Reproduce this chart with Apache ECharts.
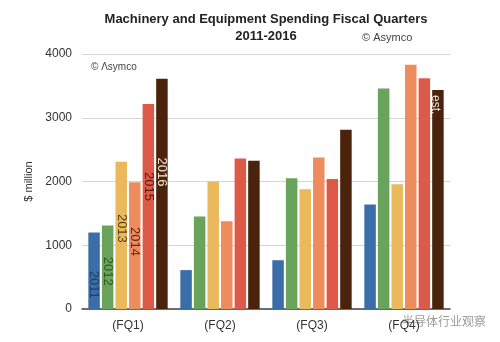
<!DOCTYPE html>
<html>
<head>
<meta charset="utf-8">
<script src="https://cdn.jsdelivr.net/npm/echarts@6/dist/echarts.min.js"></script>
<style>
  html, body { margin: 0; padding: 0; background: #fff; }
  #chart { width: 500px; height: 342px; }
</style>
</head>
<body>
<div id="chart"></div>
<script>
// Fiscal quarters and yearly spending ($ million)
const quarters = ['(FQ1)', '(FQ2)', '(FQ3)', '(FQ4)'];
const years = ['2011', '2012', '2013', '2014', '2015', '2016'];
const y2011 = [1200, 610, 765, 1640];
const y2012 = [1310, 1450, 2050, 3460];
const y2013 = [2310, 2000, 1880, 1955];
const y2014 = [1990, 1375, 2375, 3830];
const y2015 = [3215, 2360, 2040, 3620];
const y2016 = [3610, 2325, 2810, 3435];
const yTicks = [0, 1000, 2000, 3000, 4000];

const yearValues = [y2011, y2012, y2013, y2014, y2015, y2016];
const colors = ['#3b6ea8', '#6aa35c', '#e9b95c', '#ee8c5e', '#dc5a47', '#4b230d'];
const labelColors = ['#1f3f66', '#2f5a26', '#5a4214', '#5a2a12', '#5a1a12', '#f2e6d8'];
// downward nudge of each year label inside the first group of bars (px);
// with the text turned -90deg the label's own x axis points down the screen
const labelShift = [14, 4, -7, -4, -20, -22];

const FONT = '"Liberation Sans", Arial, sans-serif';

const series = yearValues.map((vals, si) => ({
  name: years[si],
  type: 'bar',
  barWidth: 11.5,
  barGap: '18%',
  itemStyle: { color: colors[si] },
  data: vals.map((v, qi) => {
    const item = { value: v };
    if (qi === 0) {
      item.label = {
        show: true, position: 'inside', rotate: -90,
        offset: [labelShift[si], 0],
        formatter: years[si], color: labelColors[si],
        fontFamily: FONT, fontSize: 13
      };
    } else if (si === 5 && qi === 3) {
      item.label = {
        show: true, position: 'insideTop', rotate: -90, align: 'left',
        verticalAlign: 'middle', offset: [0, 3],
        formatter: 'est.', color: '#f2e6d8',
        fontFamily: FONT, fontSize: 12
      };
    }
    return item;
  })
}));

const chart = echarts.init(document.getElementById('chart'), null, { renderer: 'canvas' });
chart.setOption({
  animation: false,
  backgroundColor: '#ffffff',
  title: [
    {
      text: 'Machinery and Equipment Spending Fiscal Quarters',
      left: 261, top: 8, textAlign: 'center',
      textStyle: { fontFamily: FONT, fontSize: 13, fontWeight: 'bold', color: '#222' }
    },
    {
      text: '2011-2016',
      left: 261, top: 25, textAlign: 'center',
      textStyle: { fontFamily: FONT, fontSize: 13, fontWeight: 'bold', color: '#222' }
    },
    {
      text: '© Asymco',
      left: 357, top: 27,
      textStyle: { fontFamily: FONT, fontSize: 11, fontWeight: 'normal', color: '#444' }
    },
    {
      text: '© Λsymco',
      left: 86, top: 57,
      textStyle: { fontFamily: FONT, fontSize: 10, fontWeight: 'normal', color: '#444' }
    }
  ],
  grid: { left: 82, right: 50, top: 54, bottom: 33 },
  xAxis: {
    type: 'category',
    data: quarters,
    axisTick: { show: false },
    axisLine: { lineStyle: { color: '#444', width: 1.5 } },
    axisLabel: { fontFamily: FONT, fontSize: 12, color: '#333', margin: 11 }
  },
  yAxis: {
    type: 'value',
    min: yTicks[0], max: yTicks[yTicks.length - 1], interval: 1000,
    name: '$ million',
    nameLocation: 'middle', nameGap: 42,
    nameTextStyle: { fontFamily: FONT, fontSize: 11, color: '#333' },
    axisLine: { show: false },
    axisTick: { show: false },
    axisLabel: { fontFamily: FONT, fontSize: 12, color: '#333', margin: 10, formatter: v => String(v) },
    splitLine: { lineStyle: { color: '#d4d4d4', width: 1.2 } }
  },
  series: series,
  graphic: [
    {
      type: 'text', left: 402, top: 315,
      style: { text: '半导体行业观察', fontFamily: '"Noto Sans CJK SC", sans-serif', fontSize: 12, fill: 'rgba(120,120,120,0.75)' }
    }
  ]
});
</script>
</body>
</html>
